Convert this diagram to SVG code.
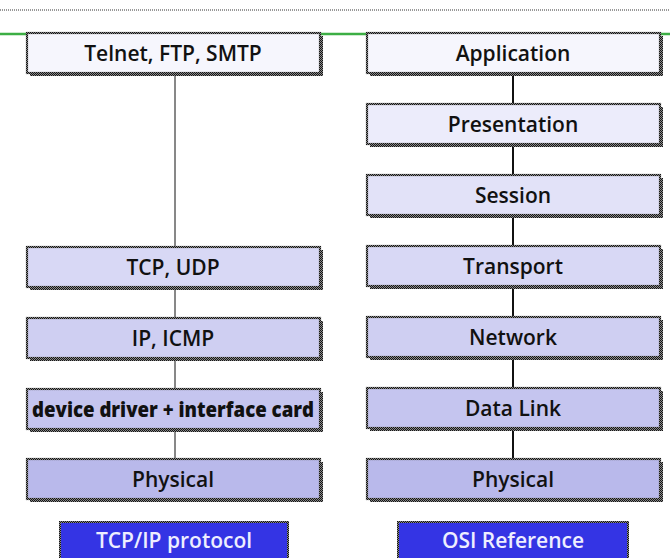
<svg xmlns="http://www.w3.org/2000/svg" width="670" height="558" viewBox="0 0 670 558">
  <defs>
    <pattern id="checker" width="2" height="2" patternUnits="userSpaceOnUse">
      <rect width="2" height="2" fill="#8a8a8a"/>
      <rect width="1" height="1" fill="#141414"/>
      <rect x="1" y="1" width="1" height="1" fill="#141414"/>
    </pattern>
  </defs>
  <style>
    .shadow { fill: url(#checker); }
    .box { stroke: url(#checker); stroke-width: 2.2; }
    .lbl { font-family: "Open Sans", "DejaVu Sans", sans-serif; font-weight: 600; font-size: 21px; fill: #111; text-anchor: middle; dominant-baseline: central; }
    .heavy { font-weight: 800; }
    .tag { font-family: "Open Sans", "DejaVu Sans", sans-serif; font-weight: 600; font-size: 21px; fill: #eeeeff; text-anchor: middle; dominant-baseline: central; }
    .l1 { fill: #f6f6fd; } .l2 { fill: #ececfb; } .l3 { fill: #e2e2f8; }
    .l4 { fill: #d8d8f5; } .l5 { fill: #cfcff2; } .l6 { fill: #c5c5ef; } .l7 { fill: #b9b9eb; }
  </style>

  <rect width="670" height="558" fill="#ffffff"/>
  <!-- header rules -->
  <line x1="0" y1="10" x2="670" y2="10" stroke="#333" stroke-width="1" stroke-dasharray="1 1"/>
  <line x1="0" y1="34" x2="670" y2="34" stroke="#3cae44" stroke-width="2.5"/>

  <g id="connectors">
    <line x1="175" y1="74" x2="175" y2="247" stroke="#111" stroke-width="1"/>
    <line x1="175" y1="288" x2="175" y2="318" stroke="#111" stroke-width="1"/>
    <line x1="175" y1="358" x2="175" y2="389" stroke="#111" stroke-width="1"/>
    <line x1="175" y1="429" x2="175" y2="459" stroke="#111" stroke-width="1"/>
    <line x1="513" y1="74" x2="513" y2="105" stroke="#111" stroke-width="2"/>
    <line x1="513" y1="145" x2="513" y2="176" stroke="#111" stroke-width="2"/>
    <line x1="513" y1="216" x2="513" y2="247" stroke="#111" stroke-width="2"/>
    <line x1="513" y1="287" x2="513" y2="318" stroke="#111" stroke-width="2"/>
    <line x1="513" y1="358" x2="513" y2="389" stroke="#111" stroke-width="2"/>
    <line x1="513" y1="429" x2="513" y2="459" stroke="#111" stroke-width="2"/>
  </g>

  <!-- TCP/IP stack -->
  <g id="telnet">
    <rect class="shadow" x="30" y="36" width="293" height="40"/>
    <rect class="box l1" x="27" y="33" width="293" height="40"/>
    <text class="lbl" x="173" y="53">Telnet, FTP, SMTP</text>
  </g>
  <g id="tcp-udp">
    <rect class="shadow" x="30" y="250" width="293" height="40"/>
    <rect class="box l4" x="27" y="247" width="293" height="40"/>
    <text class="lbl" x="173" y="267">TCP, UDP</text>
  </g>
  <g id="ip-icmp">
    <rect class="shadow" x="30" y="321" width="293" height="40"/>
    <rect class="box l5" x="27" y="318" width="293" height="40"/>
    <text class="lbl" x="173" y="338">IP, ICMP</text>
  </g>
  <g id="device-driver">
    <rect class="shadow" x="30" y="392" width="293" height="40"/>
    <rect class="box l6" x="27" y="389" width="293" height="40"/>
    <text class="lbl heavy" x="173" y="409" textLength="282" lengthAdjust="spacingAndGlyphs">device driver + interface card</text>
  </g>
  <g id="tcpip-physical">
    <rect class="shadow" x="30" y="462" width="293" height="40"/>
    <rect class="box l7" x="27" y="459" width="293" height="40"/>
    <text class="lbl" x="173" y="479">Physical</text>
  </g>

  <!-- OSI stack -->
  <g id="application">
    <rect class="shadow" x="370" y="36" width="293" height="40"/>
    <rect class="box l1" x="367" y="33" width="293" height="40"/>
    <text class="lbl" x="513" y="53">Application</text>
  </g>
  <g id="presentation">
    <rect class="shadow" x="370" y="107" width="293" height="40"/>
    <rect class="box l2" x="367" y="104" width="293" height="40"/>
    <text class="lbl" x="513" y="124">Presentation</text>
  </g>
  <g id="session">
    <rect class="shadow" x="370" y="178" width="293" height="40"/>
    <rect class="box l3" x="367" y="175" width="293" height="40"/>
    <text class="lbl" x="513" y="195">Session</text>
  </g>
  <g id="transport">
    <rect class="shadow" x="370" y="249" width="293" height="40"/>
    <rect class="box l4" x="367" y="246" width="293" height="40"/>
    <text class="lbl" x="513" y="266">Transport</text>
  </g>
  <g id="network">
    <rect class="shadow" x="370" y="320" width="293" height="40"/>
    <rect class="box l5" x="367" y="317" width="293" height="40"/>
    <text class="lbl" x="513" y="337">Network</text>
  </g>
  <g id="data-link">
    <rect class="shadow" x="370" y="391" width="293" height="40"/>
    <rect class="box l6" x="367" y="388" width="293" height="40"/>
    <text class="lbl" x="513" y="408">Data Link</text>
  </g>
  <g id="osi-physical">
    <rect class="shadow" x="370" y="462" width="293" height="40"/>
    <rect class="box l7" x="367" y="459" width="293" height="40"/>
    <text class="lbl" x="513" y="479">Physical</text>
  </g>

  <!-- captions -->
  <g id="tcpip-caption">
    <rect x="60" y="522" width="228" height="40" fill="#3434e4" stroke="url(#checker)" stroke-width="2"/>
    <text class="tag" x="174" y="540">TCP/IP protocol</text>
  </g>
  <g id="osi-caption">
    <rect x="398" y="522" width="230" height="40" fill="#3434e4" stroke="url(#checker)" stroke-width="2"/>
    <text class="tag" x="513" y="540">OSI Reference</text>
  </g>
</svg>
